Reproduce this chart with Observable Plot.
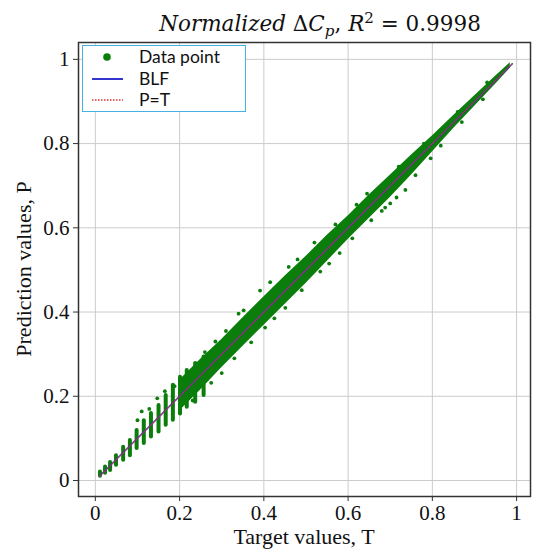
<!DOCTYPE html>
<html>
<head>
<meta charset="utf-8">
<script src="https://cdn.jsdelivr.net/npm/d3@7"></script>
<script src="https://cdn.jsdelivr.net/npm/@observablehq/plot@0.6"></script>
<style>
  body { margin: 0; background: #fff; }
  #wrap { position: relative; width: 550px; height: 556px; overflow: hidden; }
  #wrap svg.plot { position: absolute; left: 0; top: 0; }
  .ov { position: absolute; white-space: nowrap; color: #111; }
  sub, sup { line-height: 0; font-size: 70%; }
</style>
</head>
<body>
<div id="wrap"></div>
<script>
// ---- data ----
const ticks = [0, 0.2, 0.4, 0.6, 0.8, 1];
const tickLabels = ["0", "0.2", "0.4", "0.6", "0.8", "1"];

// low region: discrete target values appear as vertical streaks of points
const stripeT  = [0.011, 0.023, 0.035, 0.049, 0.066, 0.082, 0.098, 0.115, 0.132, 0.150, 0.167, 0.184, 0.201, 0.217, 0.237, 0.257];
const stripeLo = [0.010, 0.017, 0.024, 0.036, 0.048, 0.059, 0.076, 0.088, 0.103, 0.115, 0.131, 0.143, 0.158, 0.174, 0.186, 0.202];
const stripeHi = [0.020, 0.032, 0.043, 0.059, 0.079, 0.095, 0.119, 0.142, 0.159, 0.178, 0.202, 0.226, 0.245, 0.261, 0.278, 0.293];

// dense part of the point cloud: lower / upper envelope of predictions
const bandT  = [0.20, 0.25, 0.30, 0.35, 0.40, 0.45, 0.50, 0.55, 0.60, 0.65, 0.70, 0.75, 0.80, 0.85, 0.90, 0.95, 0.985];
const bandLo = [0.165, 0.215, 0.268, 0.318, 0.368, 0.418, 0.468, 0.520, 0.572, 0.622, 0.672, 0.725, 0.780, 0.835, 0.888, 0.941, 0.979];
const bandHi = [0.238, 0.288, 0.335, 0.386, 0.436, 0.485, 0.532, 0.582, 0.628, 0.678, 0.725, 0.772, 0.818, 0.866, 0.913, 0.960, 0.992];

// scattered points outside the dense band
const outT = [0.100, 0.110, 0.128, 0.147, 0.165, 0.188, 0.260, 0.285, 0.310, 0.340, 0.352, 0.391, 0.415, 0.459, 0.480, 0.520, 0.570, 0.620, 0.645,
              0.300, 0.330, 0.370, 0.403, 0.451, 0.490, 0.534, 0.580, 0.610, 0.655, 0.688, 0.700, 0.715, 0.736, 0.760, 0.796, 0.820, 0.870, 0.920,
              0.720, 0.780, 0.860, 0.930, 0.231, 0.275, 0.425, 0.555, 0.680];
const outP = [0.143, 0.164, 0.170, 0.195, 0.212, 0.224, 0.305, 0.330, 0.355, 0.396, 0.404, 0.451, 0.471, 0.507, 0.525, 0.565, 0.608, 0.655, 0.681,
              0.255, 0.290, 0.328, 0.363, 0.410, 0.452, 0.496, 0.540, 0.575, 0.618, 0.648, 0.658, 0.672, 0.690, 0.725, 0.765, 0.795, 0.851, 0.905,
              0.745, 0.800, 0.875, 0.945, 0.190, 0.232, 0.385, 0.515, 0.640];

// best linear fit and identity line
const blfT = [0.010, 0.990];
const blfP = [0.0105, 0.9895];
const idT  = [0.010, 0.990];
const idP  = [0.010, 0.990];

// ---- build tables ----
const stripes = stripeT.map((t, i) => ({t, lo: stripeLo[i], hi: stripeHi[i]}));
const band = bandT.map((t, i) => ({t, lo: bandLo[i], hi: bandHi[i]}));
const outs = outT.map((t, i) => ({t, p: outP[i]}));
const blf = blfT.map((t, i) => ({t, p: blfP[i]}));
const ident = idT.map((t, i) => ({t, p: idP[i]}));

const GREEN = "#0a7d0a";
const fmt = d => tickLabels[ticks.indexOf(d)];

const chart = Plot.plot({
  width: 550,
  height: 556,
  marginLeft: 78,
  marginRight: 20,
  marginTop: 42,
  marginBottom: 60,
  x: {domain: [-0.040, 1.033]},
  y: {domain: [-0.038, 1.040]},
  style: {background: "#fff", fontFamily: "'Liberation Serif', serif", fontSize: "21px", color: "#111"},
  marks: [
    Plot.gridX(ticks, {stroke: "#cccccc", strokeOpacity: 1, strokeWidth: 1}),
    Plot.gridY(ticks, {stroke: "#cccccc", strokeOpacity: 1, strokeWidth: 1}),
    Plot.areaY(band, {x: "t", y1: "lo", y2: "hi", fill: GREEN, curve: "linear"}),
    Plot.ruleX(stripes, {x: "t", y1: "lo", y2: "hi", stroke: GREEN, strokeWidth: 4, strokeLinecap: "round"}),
    Plot.dot(outs, {x: "t", y: "p", r: 1.9, fill: GREEN, stroke: "none"}),
    Plot.line(blf, {x: "t", y: "p", stroke: "#3434c8", strokeWidth: 1.6, strokeOpacity: 0.85}),
    Plot.line(ident, {x: "t", y: "p", stroke: "#d83030", strokeWidth: 1.2, strokeDasharray: "1.5,1.5", strokeOpacity: 0.7}),
    Plot.frame({stroke: "#333", strokeWidth: 1.5}),
    Plot.axisX(ticks, {tickFormat: fmt, tickSize: 5, tickPadding: 4, fontSize: 21, fontFamily: "'Liberation Serif', serif", label: null, stroke: "#333"}),
    Plot.axisY(ticks, {tickFormat: fmt, tickSize: 5, tickPadding: 4, fontSize: 21, fontFamily: "'Liberation Serif', serif", label: null, stroke: "#333"})
  ]
});
chart.classList.add("plot");
const wrap = document.getElementById("wrap");
wrap.appendChild(chart);

// ---- titles and labels ----
const title = document.createElement("div");
title.className = "ov";
title.style.cssText = "left:0;top:11px;width:640px;text-align:center;font-family:'DejaVu Serif';font-size:21.5px;line-height:26px;";
title.innerHTML = "<i>Normalized</i> Δ<i>C</i><sub><i>p</i></sub>, <i>R</i><sup>2</sup> = 0.9998";
wrap.appendChild(title);

const xl = document.createElement("div");
xl.className = "ov";
xl.style.cssText = "left:78px;top:525px;width:452px;text-align:center;font-family:'Liberation Serif';font-size:22px;line-height:24px;";
xl.textContent = "Target values, T";
wrap.appendChild(xl);

const yl = document.createElement("div");
yl.className = "ov";
yl.style.cssText = "left:24px;top:269px;transform:translate(-50%,-50%) rotate(-90deg);font-family:'Liberation Serif';font-size:22px;line-height:24px;";
yl.textContent = "Prediction values, P";
wrap.appendChild(yl);

// ---- legend ----
const lg = document.createElement("div");
lg.className = "ov";
lg.style.cssText = "left:82px;top:45px;width:164px;height:67px;box-sizing:border-box;border:1.5px solid #45b2e6;background:#fff;font-family:Lato;font-size:17.5px;";
lg.innerHTML = `
<svg width="60" height="64" style="position:absolute;left:0;top:0">
  <circle cx="24" cy="11" r="3.8" fill="${GREEN}"/>
  <line x1="9" x2="40" y1="33" y2="33" stroke="#3434d0" stroke-width="2"/>
  <line x1="9" x2="40" y1="54" y2="54" stroke="#e03030" stroke-width="1.5" stroke-dasharray="1.5,1.5"/>
</svg>
<div style="position:absolute;left:56px;top:1px;line-height:20px">Data point</div>
<div style="position:absolute;left:56px;top:23px;line-height:20px">BLF</div>
<div style="position:absolute;left:56px;top:44px;line-height:20px">P=T</div>`;
wrap.appendChild(lg);
</script>
</body>
</html>
